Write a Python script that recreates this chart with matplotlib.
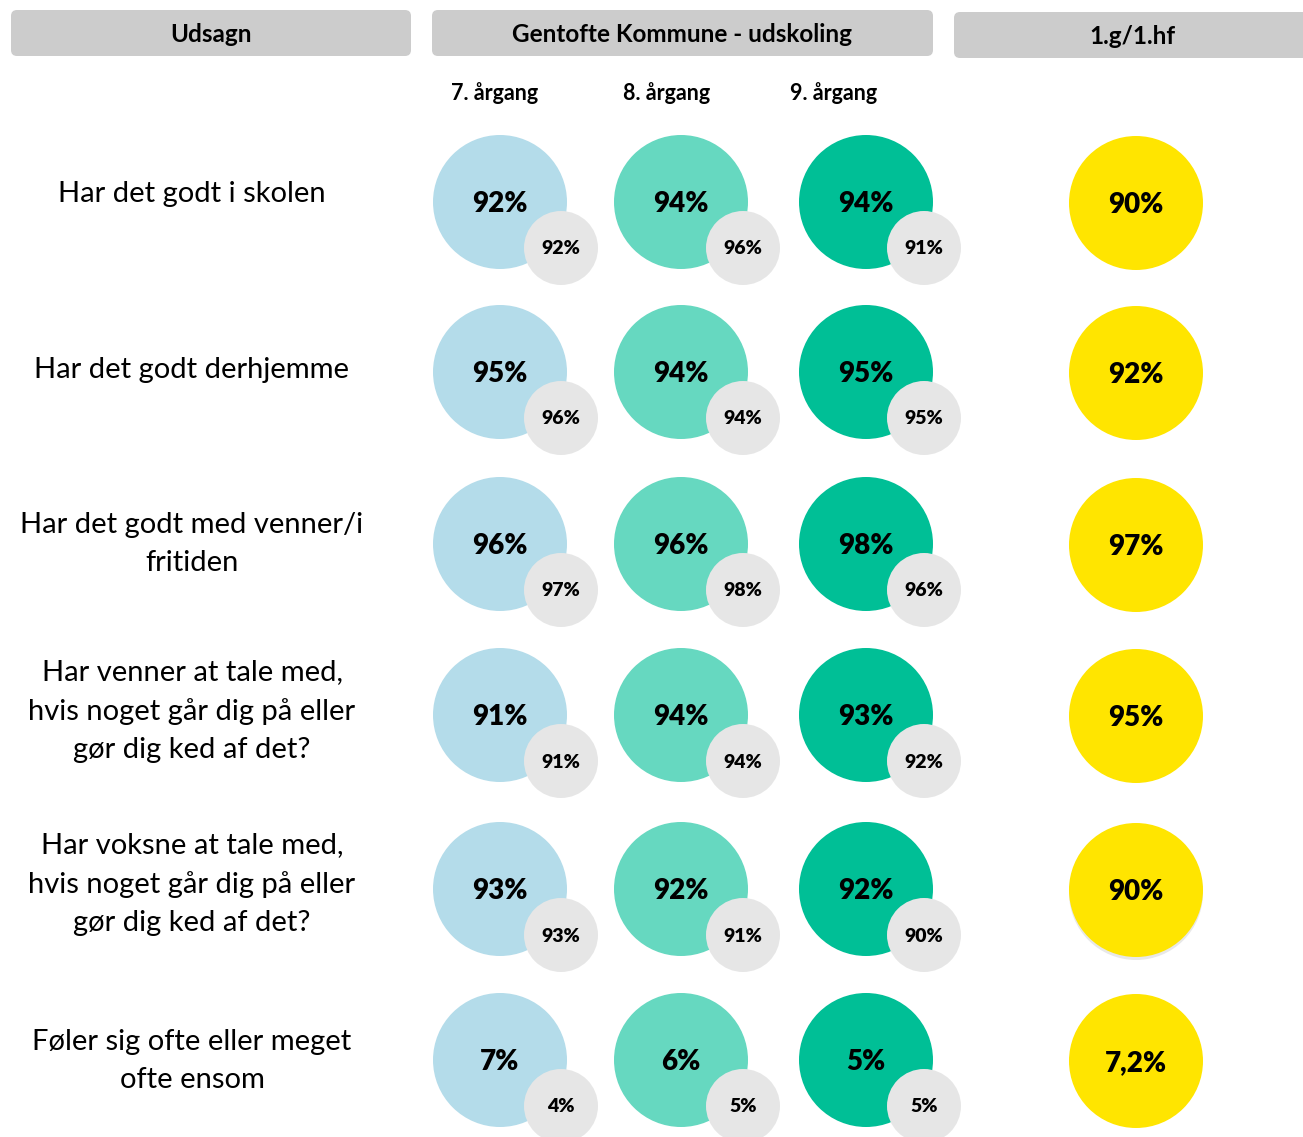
import matplotlib.pyplot as plt
from matplotlib.patches import Circle, FancyBboxPatch

plt.rcParams['font.family'] = ['Lato', 'DejaVu Sans']

statements = [
    "Har det godt i skolen",
    "Har det godt derhjemme",
    "Har det godt med venner/i\nfritiden",
    "Har venner at tale med,\nhvis noget går dig på eller\ngør dig ked af det?",
    "Har voksne at tale med,\nhvis noget går dig på eller\ngør dig ked af det?",
    "Føler sig ofte eller meget\nofte ensom",
]
grades = ["7. årgang", "8. årgang", "9. årgang"]
grade7 = [92, 95, 96, 91, 93, 7]
grade8 = [94, 94, 96, 94, 92, 6]
grade9 = [94, 95, 98, 93, 92, 5]
grade7_ref = [92, 96, 97, 91, 93, 4]
grade8_ref = [96, 94, 98, 94, 91, 5]
grade9_ref = [91, 95, 96, 92, 90, 5]
gym = [90, 92, 97, 95, 90, 7.2]

colors = ['#b4dcea', '#66d8c0', '#00bf96']
yellow = '#ffe500'
grey = '#e6e6e6'

W, H = 1303, 1137
fig = plt.figure(figsize=(W / 100, H / 100), dpi=100)
ax = fig.add_axes([0, 0, 1, 1])
ax.set_xlim(0, W)
ax.set_ylim(H, 0)
ax.axis('off')

# header boxes
headers = [("Udsagn", 11, 411, 10), ("Gentofte Kommune - udskoling", 432, 933, 10),
           ("1.g/1.hf", 954, 1310, 12)]
for txt, x0, x1, y0 in headers:
    ax.add_patch(FancyBboxPatch((x0 + 6, y0 + 6), x1 - x0 - 12, 46 - 12,
                                boxstyle="round,pad=6", fc='#cccccc', ec='none'))
    ax.text((x0 + x1) / 2, y0 + 25, txt, ha='center', va='center',
            fontsize=17.5, fontweight='bold')

grade_x = [495, 667, 834]
for g, x in zip(grades, grade_x):
    ax.text(x, 93, g, ha='center', va='center', fontsize=15.5, fontweight='bold')

row_y = [202, 372, 544, 715, 889, 1060]
label_y = [194, 370, 544, 711, 884, 1061]
col_x = [500, 681, 866]
small_dx = [61, 62, 58]
R, r = 67, 37
dy = 46


def fmt(v):
    return ("%g" % v).replace('.', ',') + '%'


series = list(zip([grade7, grade8, grade9], [grade7_ref, grade8_ref, grade9_ref]))
for i, y in enumerate(row_y):
    ax.text(192, label_y[i], statements[i], ha='center', va='center',
            fontsize=21, linespacing=1.58)
    for j, (vals, refs) in enumerate(series):
        x = col_x[j]
        ax.add_patch(Circle((x, y), R, fc=colors[j], ec='none'))
        ax.text(x, y + 2, fmt(vals[i]), ha='center', va='center',
                fontsize=20, fontweight='heavy')
        sx = x + small_dx[j]
        ax.add_patch(Circle((sx, y + dy), r, fc=grey, ec='none'))
        ax.text(sx, y + dy + 1, fmt(refs[i]), ha='center', va='center',
                fontsize=14, fontweight='heavy')
    if i == 4:
        ax.add_patch(Circle((1136, y + 4), R, fc='#e8e8e8', ec='none'))
    ax.add_patch(Circle((1136, y + 1), R, fc=yellow, ec='none'))
    ax.text(1136, y + 3, fmt(gym[i]), ha='center', va='center',
            fontsize=20, fontweight='heavy')

fig.savefig('out.png', dpi=100)
